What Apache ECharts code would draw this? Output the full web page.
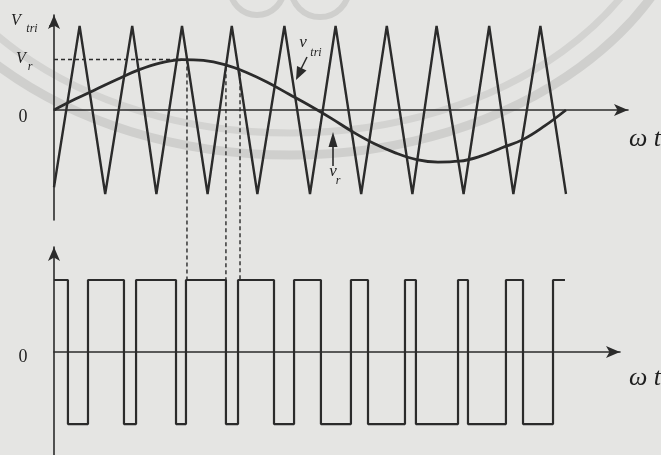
<!DOCTYPE html>
<html><head><meta charset="utf-8">
<script src="https://cdn.jsdelivr.net/npm/echarts@6/dist/echarts.min.js"></script>
<style>html,body{margin:0;padding:0;background:#e5e5e3}#c{width:661px;height:455px}</style>
</head><body><div id="c"></div>
<script>
// ---- data (x in degrees of ωt) ----
const triT = [0,18,36,55,72,90,108,125,143,162,180,198,216,234,252,269,288,306,323,342,360];
const triV = [-0.92,1,-1,1,-1,1,-1,1,-1,1,-1,1,-1,1,-1,1,-1,1,-1,1,-1];
const sineT = [0,15,30,45,60,75,90,105,120,135,150,165,180,195,210,225,240,255,270,285,300,315,330,345,360];
const sineV = [0,0.13,0.25,0.37,0.48,0.56,0.6,0.59,0.54,0.45,0.33,0.19,0.05,-0.1,-0.26,-0.4,-0.51,-0.59,-0.62,-0.61,-0.55,-0.45,-0.35,-0.19,0];
const pwmEdges = [9.8,23.9,49.2,57.7,85.8,92.8,120.9,129.4,154.7,168.8,187.7,208.8,220.8,246.8,254.5,284.1,291.1,317.8,329.8,350.9];
const pwmEnd = 359.3;
const vrLevel = 0.6, vrEnd = 90, vtriLevel = 1;
const dropT = [93.5,120.9,130.8];
const dropV = [0.6,0.51,0.45];
const yLabels = ['V','tri','V','r','0'];

const ink = '#2b2b2b';
const pwm = [[0,1]];
let lev = 1;
for (const e of pwmEdges) { pwm.push([e,lev]); lev = -lev; pwm.push([e,lev]); }
pwm.push([pwmEnd,lev]);

const chart = echarts.init(document.getElementById('c'), null, {renderer:'canvas'});
const axLine = {show:true, onZero:true, symbol:['none','arrow'], symbolSize:[9,14], lineStyle:{color:ink,width:1.6}};
chart.setOption({
  animation:false,
  backgroundColor:'#e5e5e3',
  grid:[{left:54,top:15,width:574,height:205},{left:54,top:247,width:566,height:208}],
  xAxis:[
    {gridIndex:0,type:'value',min:0,max:403.6,axisLine:axLine,axisTick:{show:false},axisLabel:{show:false},splitLine:{show:false}},
    {gridIndex:1,type:'value',min:0,max:398,axisLine:axLine,axisTick:{show:false},axisLabel:{show:false},splitLine:{show:false}}
  ],
  yAxis:[
    {gridIndex:0,type:'value',min:-1.31,max:1.131,axisLine:axLine,
     axisTick:{show:true,customValues:[vtriLevel],length:5,lineStyle:{color:ink,width:1.5}},
     axisLabel:{show:false},splitLine:{show:false}},
    {gridIndex:1,type:'value',min:-1.43,max:1.458,axisLine:axLine,axisTick:{show:false},axisLabel:{show:false},splitLine:{show:false}}
  ],
  series:[
    {type:'line',xAxisIndex:0,yAxisIndex:0,data:triT.map((t,i)=>[t,triV[i]]),symbol:'none',lineStyle:{color:ink,width:2.4},z:5},
    {type:'line',xAxisIndex:0,yAxisIndex:0,data:sineT.map((t,i)=>[t,sineV[i]]),smooth:0.4,symbol:'none',lineStyle:{color:ink,width:2.8},z:5},
    {type:'line',xAxisIndex:0,yAxisIndex:0,data:[[0,vrLevel],[vrEnd,vrLevel]],symbol:'none',lineStyle:{color:ink,width:1.5,type:[4,3]},z:4},
    {type:'line',xAxisIndex:1,yAxisIndex:1,data:pwm,symbol:'none',lineStyle:{color:ink,width:2.2},z:5}
  ]
});

const serif = '"Liberation Serif","DejaVu Serif",serif';
const g = [];
// watermark
g.push({type:'ellipse',shape:{cx:290,cy:-145,rx:410,ry:300},style:{fill:null,stroke:'#cfcfcd',lineWidth:9},z:-1,silent:true});
g.push({type:'ellipse',shape:{cx:290,cy:-145,rx:385,ry:278},style:{fill:null,stroke:'#d3d3d1',lineWidth:7},z:-1,silent:true});
g.push({type:'circle',shape:{cx:257,cy:-12,r:27},style:{fill:null,stroke:'#cfcfcd',lineWidth:6},z:-1,silent:true});
g.push({type:'circle',shape:{cx:320,cy:-12,r:29},style:{fill:null,stroke:'#cfcfcd',lineWidth:6},z:-1,silent:true});
// drop lines
for (let i=0;i<dropT.length;i++){
  const p0 = chart.convertToPixel({gridIndex:0},[dropT[i],dropV[i]]);
  const p1 = chart.convertToPixel({gridIndex:1},[dropT[i],1]);
  g.push({type:'line',shape:{x1:p0[0],y1:p0[1],x2:p1[0],y2:p1[1]},style:{stroke:ink,lineWidth:1.4,lineDash:[4,3]},z:3});
}
// axis labels
const pVt = chart.convertToPixel({gridIndex:0},[0,vtriLevel]);
const pVr = chart.convertToPixel({gridIndex:0},[0,vrLevel]);
const p0a = chart.convertToPixel({gridIndex:0},[0,0]);
const p0b = chart.convertToPixel({gridIndex:1},[0,0]);
const txt = (x,y,t,size,italic,align)=>({type:'text',x:x,y:y,style:{text:t,fill:'#1f1f1f',font:(italic?'italic ':'')+size+'px '+serif,textAlign:align||'center',textVerticalAlign:'middle'},z:10});
g.push(txt(16,pVt[1]-5,yLabels[0],16,true));
g.push(txt(32,pVt[1]+3,yLabels[1],12,true));
g.push(txt(21,pVr[1]-1,yLabels[2],16,true));
g.push(txt(30,pVr[1]+7,yLabels[3],12,true));
g.push(txt(23,p0a[1]+7,yLabels[4],18,false));
g.push(txt(23,p0b[1]+5,yLabels[4],18,false));
g.push(txt(629,p0a[1]+29,'ω t',26,true,'left'));
g.push(txt(629,p0b[1]+26,'ω t',26,true,'left'));
// series annotations
g.push(txt(303,43,'v',17,true));
g.push(txt(316,53,'tri',12,true));
g.push({type:'line',shape:{x1:307,y1:57,x2:301,y2:69},style:{stroke:ink,lineWidth:1.6},z:10});
g.push({type:'polygon',shape:{points:[[296,80],[306.5,70.5],[297,66]]},style:{fill:ink},z:10});
g.push({type:'line',shape:{x1:333,y1:145,x2:333,y2:166},style:{stroke:ink,lineWidth:1.6},z:10});
g.push({type:'polygon',shape:{points:[[333,132],[328.5,147],[337.5,147]]},style:{fill:ink},z:10});
g.push(txt(333,172,'v',17,true));
g.push(txt(338,181,'r',12,true));
chart.setOption({graphic:{elements:g}});
</script></body></html>
